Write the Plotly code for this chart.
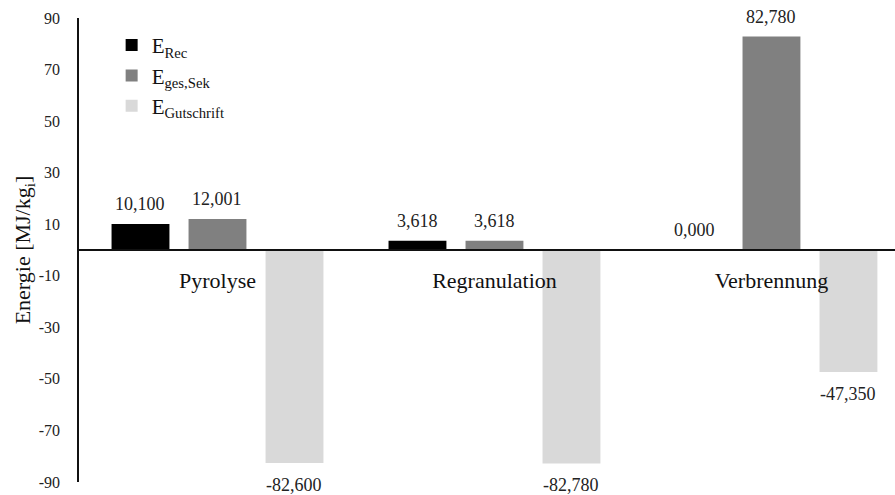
import plotly.graph_objects as go

categories = ["Pyrolyse", "Regranulation", "Verbrennung"]
series_names = ["E<sub>Rec</sub>", "E<sub>ges,Sek</sub>", "E<sub>Gutschrift</sub>"]
e_rec = [10.100, 3.618, 0.000]
e_ges_sek = [12.001, 3.618, 82.780]
e_gutschrift = [-82.600, -82.780, -47.350]
y_ticks = [90, 70, 50, 30, 10, -10, -30, -50, -70, -90]

colors = ["#000000", "#808080", "#D9D9D9"]
series = [e_rec, e_ges_sek, e_gutschrift]

FONT = "Liberation Serif, Times New Roman, serif"
step = 0.278
bar_w = 0.209

def fmt(v):
    return f"{v:.3f}".replace(".", ",")

fig = go.Figure()
annotations = []
for k, (name, vals, col) in enumerate(zip(series_names, series, colors)):
    xs = [i + (k - 1) * step for i in range(len(categories))]
    fig.add_trace(go.Bar(
        x=xs, y=vals, name=name, width=bar_w,
        marker=dict(color=col, line=dict(width=0)),
    ))
    for x, v in zip(xs, vals):
        annotations.append(dict(
            x=x, y=v, xref="x", yref="y", text=fmt(v), showarrow=False,
            yanchor="bottom" if v >= 0 else "top",
            yshift=8 if v >= 0 else -10,
            font=dict(family=FONT, size=18, color="#222222"),
        ))

fig.update_layout(
    width=895, height=495,
    margin=dict(l=79, r=0, t=18, b=13),
    paper_bgcolor="white", plot_bgcolor="white",
    font=dict(family=FONT, color="#222222"),
    showlegend=True,
    legend=dict(
        x=0.04, y=0.985, xanchor="left", yanchor="top",
        bgcolor="rgba(0,0,0,0)", font=dict(family=FONT, size=21, color="#111111"),
        itemwidth=30, tracegroupgap=0,
    ),
    annotations=annotations,
    xaxis=dict(
        type="linear", range=[-0.5, 2.446],
        tickvals=list(range(len(categories))), ticktext=categories,
        anchor="free", position=0.5,
        showline=True, linecolor="#111111", linewidth=1.5,
        showgrid=False, zeroline=False, ticks="",
        ticklabelstandoff=11,
        tickfont=dict(family=FONT, size=22, color="#111111"),
    ),
    yaxis=dict(
        range=[-90, 90], tickvals=y_ticks, ticktext=[str(t) for t in y_ticks],
        showline=True, linecolor="#111111", linewidth=1.5,
        showgrid=False, zeroline=False, ticks="",
        ticklabelstandoff=14,
        tickfont=dict(family=FONT, size=16, color="#222222"),
        title=dict(text="Energie [MJ/kg<sub>i</sub>]", standoff=2,
                   font=dict(family=FONT, size=22, color="#111111")),
    ),
)

fig.write_html("out.html")
